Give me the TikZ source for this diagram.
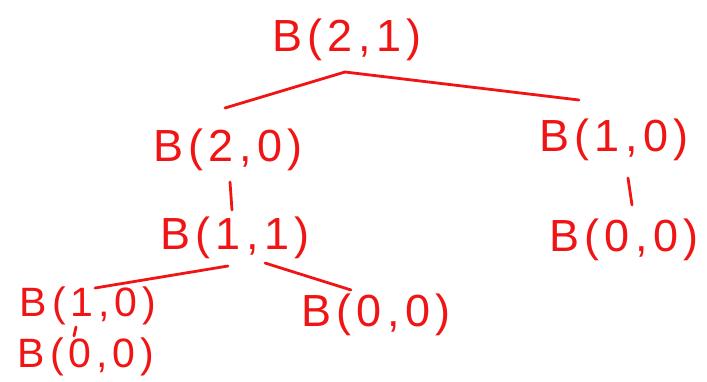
\documentclass[tikz,border=0pt]{standalone}
\usepackage{fontspec}
\newfontfamily\hand[LetterSpace=12]{Liberation Sans}
\usetikzlibrary{calc}
\definecolor{ink}{RGB}{240,20,20}
\tikzset{
  lbl/.style={text=ink, inner sep=0pt, font=\hand\fontsize{45}{45}\selectfont},
  small/.style={font=\hand\fontsize{41}{41}\selectfont},
  edge/.style={draw=ink, line width=2.8pt, line cap=round}
}
\begin{document}
\begin{tikzpicture}[x=1pt,y=-1pt]
\useasboundingbox (0,0) rectangle (707,381);
\node[lbl] (r) at (347,40) {B(2,1)};
\node[lbl] (a) at (228,150) {B(2,0)};
\node[lbl] (b) at (614,140) {B(1,0)};
\node[lbl] (c) at (235,238) {B(1,1)};
\node[lbl] (d) at (624,240) {B(0,0)};
\node[lbl,small] (e) at (88,306) {B(1,0)};
\node[lbl] (f) at (376,315) {B(0,0)};
\node[lbl,small] (g) at (86,357) {B(0,0)};
\draw[edge] ($(r)+(-2,32)$) -- ($(a)+(-3,-42)$);
\draw[edge] ($(r)+(-2,32)$) -- ($(b)+(-35,-40)$);
\draw[edge] ($(a)+(2,32)$) -- ($(c)+(-3,-28)$);
\draw[edge] ($(b)+(14,38)$) -- ($(d)+(8,-35)$);
\draw[edge] ($(c)+(-7,28)$) -- ($(e)+(7,-18)$);
\draw[edge] ($(c)+(30,25)$) -- ($(f)+(-25,-25)$);
\draw[edge] ($(e)+(-12,21)$) -- ($(g)+(-12,-21)$);
\end{tikzpicture}
\end{document}
